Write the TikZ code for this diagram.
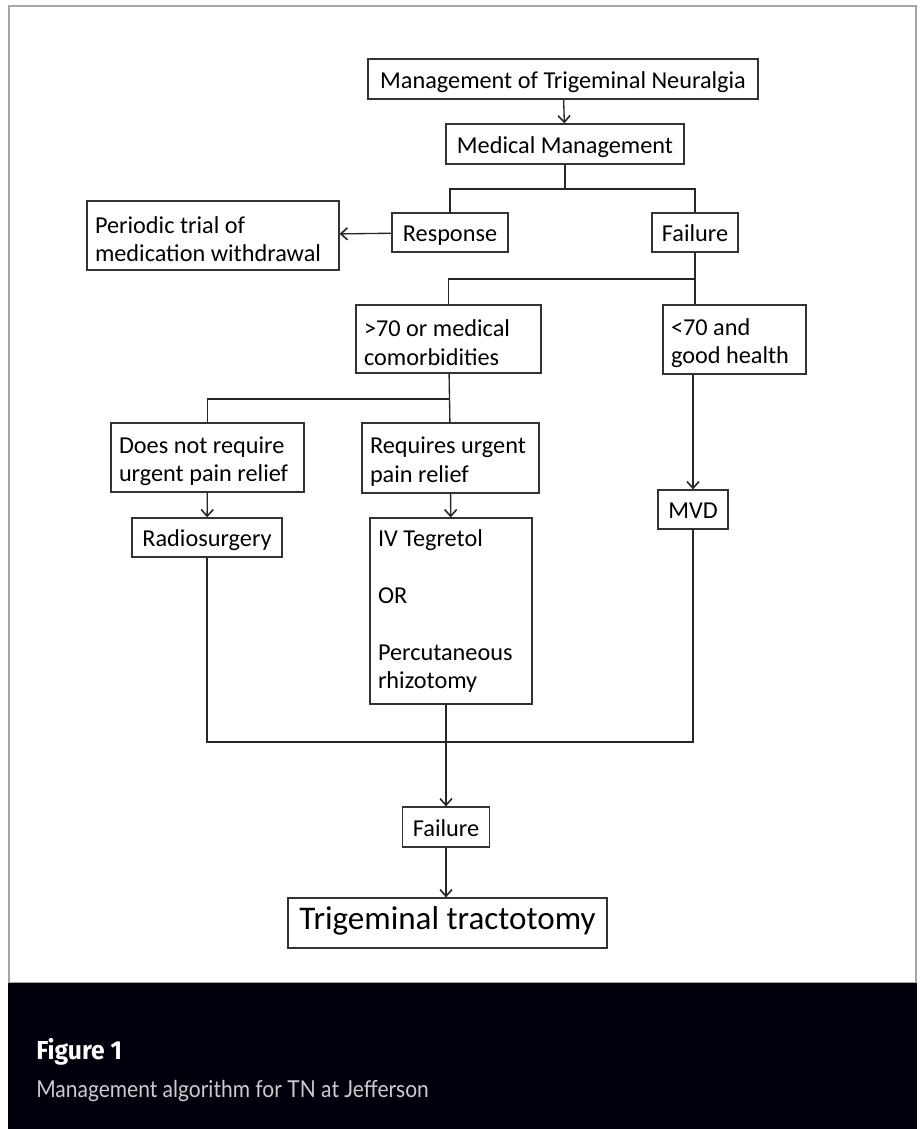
\documentclass[tikz,border=0pt]{standalone}
\usepackage{fontspec}
\setmainfont{Carlito}
\newfontfamily\figfont[FakeStretch=0.95]{Fira Sans}
\newfontfamily\capfont[FakeStretch=0.9]{Lato}
\usetikzlibrary{arrows.meta}

\begin{document}
\begin{tikzpicture}[x=0.75pt,y=-0.75pt,>={Straight Barb[length=5pt,width=9pt,line width=1.2pt]}]
\tikzstyle{every node}=[font=\fontsize{18.2}{21.3}\selectfont]
\tikzstyle{box}=[draw=black!80,line width=0.9pt,inner xsep=6pt,inner ysep=0pt,align=flush left]
\tikzstyle{single}=[box,align=center,minimum height=29.25pt,text height=14pt,text depth=0pt]
\tikzstyle{multi}=[box,minimum height=51.75pt,execute at begin node={\rule{0pt}{18pt}}]
\tikzstyle{link}=[black!85,line width=1pt]
\useasboundingbox (0,0) rectangle (920,1129);
\draw[gray!70,line width=1pt](9,6) rectangle (916,983);
\fill[black!95!blue](8,983) rectangle (917,1129);
% boxes
\node[single,minimum width=292.5pt,minimum height=30pt](title) at (563,79){Management of Trigeminal Neuralgia};
\node[single,minimum width=178.5pt,minimum height=30pt](medmgmt) at (565,144){Medical Management};
\node[single,minimum width=87pt](response) at (450,232.5){Response};
\node[single,minimum width=64.5pt](fail1) at (695,232.5){Failure};
\node[multi,text width=177pt](periodic) at (213,235.5){Periodic trial of\\medication withdrawal};
\node[multi,text width=126.75pt,minimum height=51pt](older) at (448.5,339){>70 or medical\\comorbidities};
\node[multi,text width=95.25pt](younger) at (734.5,339.5){<70 and\\good health};
\node[multi,text width=132.75pt](nonurgent) at (207.5,457.5){Does not require\\urgent pain relief};
\node[multi,text width=120.75pt,minimum height=52.5pt](urgent) at (450.5,458){Requires urgent\\pain relief};
\node[single,minimum width=112.5pt](radio) at (207,537.5){Radiosurgery};
\node[box,text width=109.5pt,minimum height=139.5pt](ivbox) at (451,611){IV Tegretol\\[21.3pt]OR\\[21.3pt]Percutaneous\\rhizotomy};
\node[single,minimum width=52.5pt](mvd) at (693,509.5){MVD};
\node[single,minimum width=65.25pt,minimum height=30pt](fail2) at (446,827){Failure};
\node[single,minimum width=239.25pt,minimum height=37.5pt,text height=15pt,text depth=6pt,font=\fontsize{24.8}{28}\selectfont](tract) at (447.5,923){Trigeminal tractotomy};
% junctions
\coordinate(j1) at (565,189);
\coordinate(j2) at (695,279);
\coordinate(j3) at (450,399);
\coordinate(j4) at (447,742);
% connectors
\draw[link,->](title)--(medmgmt);
\draw[link](medmgmt)--(j1);
\draw[link](response.north)|-(j1)-|(fail1.north);
\draw[link,->](response)--(periodic);
\draw[link](fail1.south)--(fail1.south|-younger.north);
\draw[link](j2)-|(older.north);
\draw[link](older)--(urgent);
\draw[link](j3)-|(nonurgent.north);
\draw[link,->](nonurgent)--(radio);
\draw[link,->](urgent)--(ivbox);
\draw[link,->](mvd.north|-younger.south)--(mvd.north);
\draw[link](radio.south)|-(j4)-|(mvd.south);
\draw[link,->](fail2.north|-ivbox.south)--(fail2.north);
\draw[link,->](fail2.south)--(fail2.south|-tract.north);
% caption
\node[anchor=base west,inner sep=0pt,white,font=\figfont\bfseries\fontsize{19.5}{22}\selectfont](figlabel) at (36,1059){Figure 1};
\node[anchor=base west,inner sep=0pt,black!20,font=\capfont\fontsize{17.5}{21}\selectfont](figcaption) at (36,1097){Management algorithm for TN at Jefferson};
\end{tikzpicture}
\end{document}
